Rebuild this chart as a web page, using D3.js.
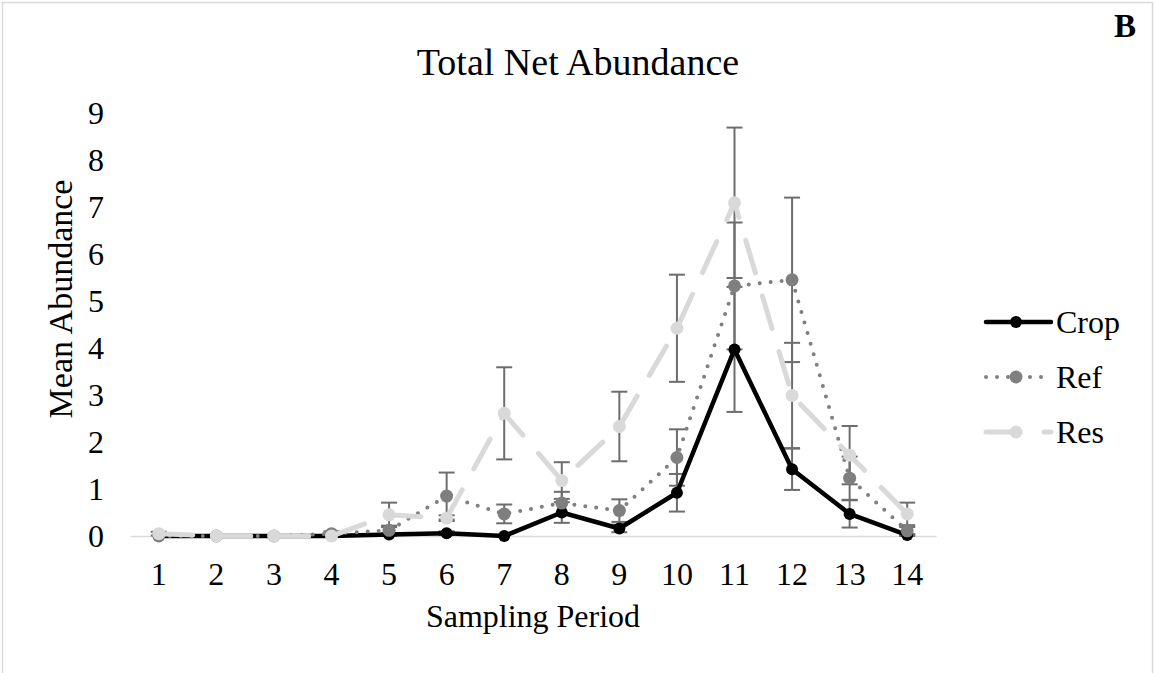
<!DOCTYPE html>
<html>
<head>
<meta charset="utf-8">
<script src="https://cdn.jsdelivr.net/npm/d3@7"></script>
<style>
  html, body { margin: 0; padding: 0; background: #fff; }
  svg { display: block; }
  text { font-family: "Liberation Serif", "Times New Roman", serif; fill: #000; }
</style>
</head>
<body>
<svg id="chart" width="1155" height="673"></svg>
<script>
// Sampling periods on the x axis
const periods = [1, 2, 3, 4, 5, 6, 7, 8, 9, 10, 11, 12, 13, 14];

// Mean abundance per treatment, with standard-error half widths
const crop    = [0, 0, 0, 0, 0.03, 0.06, 0, 0.5, 0.16, 0.92, 3.97, 1.42, 0.47, 0.02];
const cropErr = [0, 0, 0, 0, 0.03, 0.04, 0, 0.22, 0.08, 0.4, 1.33, 0.44, 0.29, 0.02];
const ref     = [0, 0, 0, 0.05, 0.12, 0.85, 0.47, 0.7, 0.54, 1.67, 5.32, 5.45, 1.23, 0.11];
const refErr  = [0, 0, 0, 0.05, 0.1, 0.5, 0.2, 0.24, 0.24, 0.6, 1.35, 1.75, 0.46, 0.08];
const res     = [0.05, 0, 0, 0, 0.45, 0.38, 2.61, 1.18, 2.33, 4.42, 7.09, 2.99, 1.72, 0.47];
const resErr  = [0.04, 0, 0, 0, 0.26, 0.06, 0.98, 0.39, 0.74, 1.14, 1.6, 1.12, 0.62, 0.24];

const yTicks = [0, 1, 2, 3, 4, 5, 6, 7, 8, 9];
const seriesNames = ["Crop", "Ref", "Res"];

const series = [
  { name: seriesNames[0], values: crop, err: cropErr, color: "#000000", width: 4.5, dash: null, cap: "round", r: 6 },
  { name: seriesNames[1], values: ref,  err: refErr,  color: "#7f7f7f", width: 4,   dash: "0,11", cap: "round", r: 6.5 },
  { name: seriesNames[2], values: res,  err: resErr,  color: "#d9d9d9", width: 5,   dash: "34,24", cap: "round", r: 6.5 }
];

const svg = d3.select("#chart");

// outer chart frame
svg.append("rect")
  .attr("x", 2.5).attr("y", 2.5)
  .attr("width", 1150).attr("height", 690)
  .attr("fill", "#fff").attr("stroke", "#d9d9d9").attr("stroke-width", 1.5);

const x = d3.scaleBand().domain(periods).range([130, 936]);
const cx = d => x(d) + x.bandwidth() / 2;
const y = d3.scaleLinear().domain([0, 9]).range([536, 113]);

// title and panel letter
svg.append("text").attr("x", 578).attr("y", 75)
  .attr("text-anchor", "middle").style("font-size", "38px")
  .text("Total Net Abundance");
svg.append("text").attr("x", 1125).attr("y", 37)
  .attr("text-anchor", "middle").style("font-size", "33px").style("font-weight", "bold")
  .text("B");

// y axis labels (no axis line, no ticks)
const yAxis = svg.append("g").attr("transform", "translate(104,0)")
  .call(d3.axisLeft(y).tickValues(yTicks).tickSize(0).tickPadding(0).tickFormat(d3.format("d")));
yAxis.select(".domain").remove();
yAxis.selectAll("text").style("font-size", "32px").attr("dy", "0.34em")
  .style("font-family", "'Liberation Serif', 'Times New Roman', serif");

// x axis: light grey baseline with period labels
const xAxis = svg.append("g").attr("transform", "translate(0,536)")
  .call(d3.axisBottom(x).tickSize(0).tickPadding(0));
xAxis.select(".domain").attr("stroke", "#d9d9d9").attr("stroke-width", 1.5);
xAxis.selectAll("text").style("font-size", "32px").attr("y", 49).attr("dy", 0)
  .style("font-family", "'Liberation Serif', 'Times New Roman', serif");

// axis titles
svg.append("text").attr("x", 533).attr("y", 627)
  .attr("text-anchor", "middle").style("font-size", "32px")
  .text("Sampling Period");
svg.append("text")
  .attr("transform", "translate(72,299) rotate(-90)")
  .attr("text-anchor", "middle").style("font-size", "34px")
  .text("Mean Abundance");

// error bars (drawn beneath the series)
const errG = svg.append("g").attr("stroke", "#6d6d6d").attr("stroke-width", 2).attr("fill", "none");
series.forEach(s => {
  periods.forEach((p, i) => {
    const e = s.err[i];
    if (!e) return;
    const v = s.values[i];
    const top = y(v + e), bot = y(Math.max(0, v - e));
    const xc = cx(p);
    errG.append("line").attr("x1", xc).attr("x2", xc).attr("y1", top).attr("y2", bot);
    errG.append("line").attr("x1", xc - 8).attr("x2", xc + 8).attr("y1", top).attr("y2", top);
    errG.append("line").attr("x1", xc - 8).attr("x2", xc + 8).attr("y1", bot).attr("y2", bot);
  });
});

// series lines and markers
const line = d3.line().x((d, i) => cx(periods[i])).y(d => y(d));
series.forEach(s => {
  const g = svg.append("g");
  g.append("path")
    .attr("d", line(s.values))
    .attr("fill", "none")
    .attr("stroke", s.color)
    .attr("stroke-width", s.width)
    .attr("stroke-linecap", s.cap)
    .attr("stroke-linejoin", "round")
    .attr("stroke-dasharray", s.dash);
  g.selectAll("circle").data(s.values).enter().append("circle")
    .attr("cx", (d, i) => cx(periods[i]))
    .attr("cy", d => y(d))
    .attr("r", s.r)
    .attr("fill", s.color);
});

// legend
const legY = [322, 377, 432];
series.forEach((s, i) => {
  const g = svg.append("g").attr("transform", `translate(0,${legY[i]})`);
  g.append("line").attr("x1", 986).attr("x2", 1051).attr("y1", 0).attr("y2", 0)
    .attr("stroke", s.color).attr("stroke-width", s.width)
    .attr("stroke-linecap", s.cap).attr("stroke-dasharray", s.dash);
  g.append("circle").attr("cx", 1016).attr("cy", 0).attr("r", s.r).attr("fill", s.color);
  g.append("text").attr("x", 1056).attr("y", 11).style("font-size", "32px").text(s.name);
});
</script>
</body>
</html>
